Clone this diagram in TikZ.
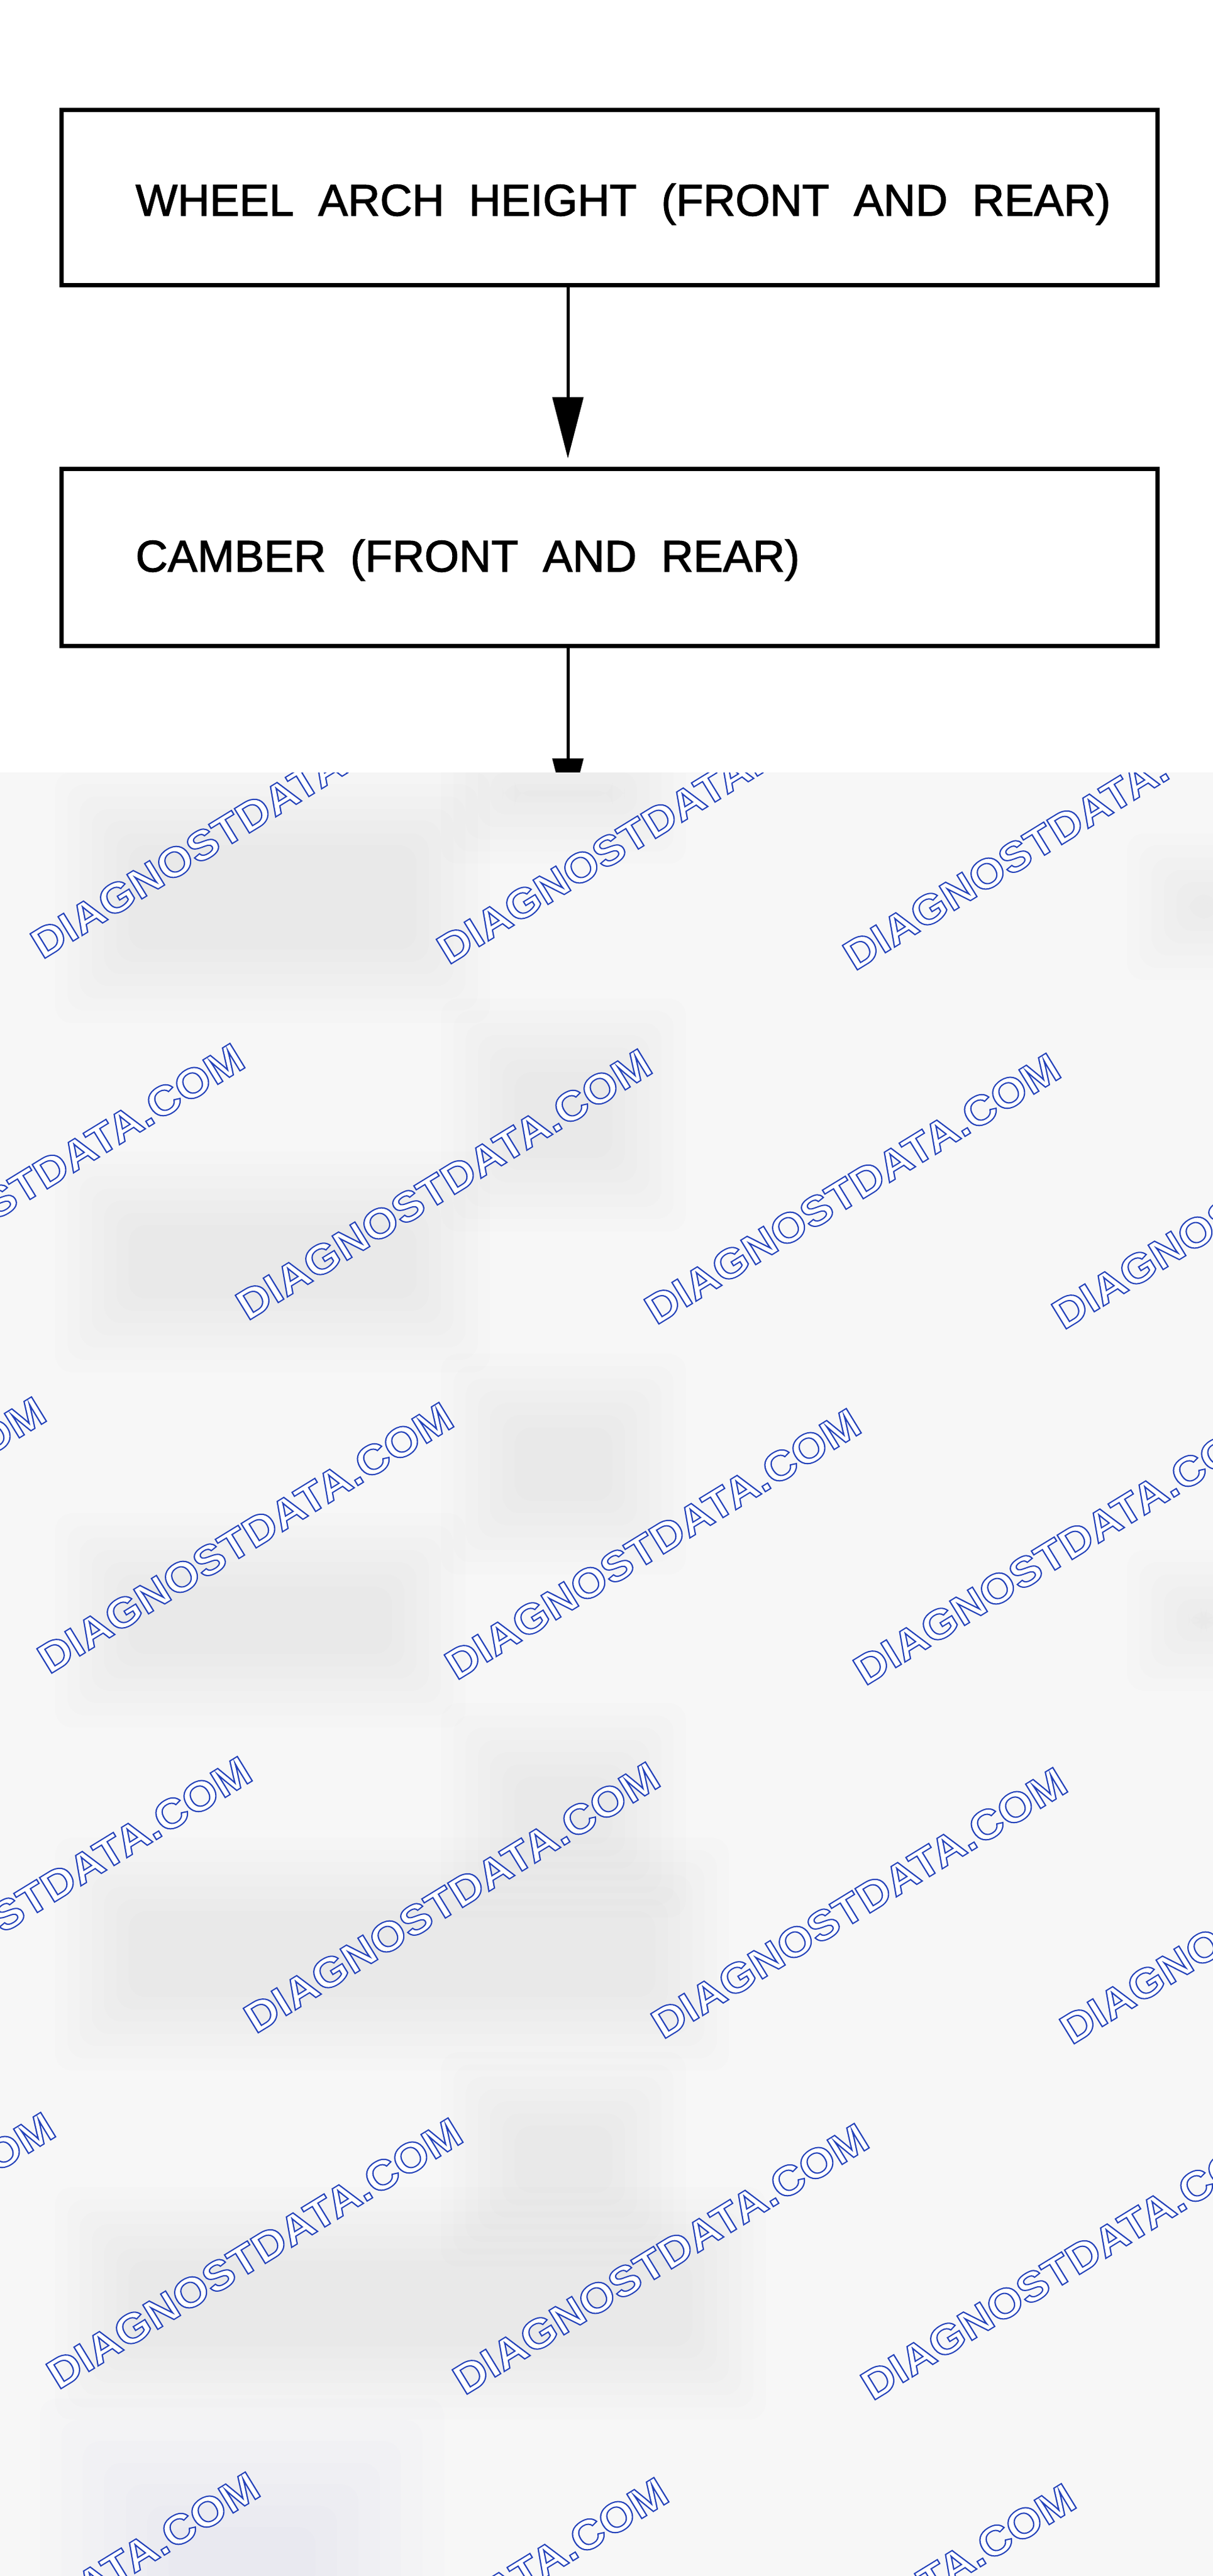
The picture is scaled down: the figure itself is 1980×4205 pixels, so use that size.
\documentclass[tikz,border=0pt]{standalone}
\usepackage{fontspec}
\usepackage{graphicx}
\setmainfont{Liberation Sans}
\newfontfamily\boxfont{Liberation Sans}
\newfontfamily\wmfont{Liberation Sans}
\usetikzlibrary{arrows.meta,calc}
\definecolor{bgbase}{RGB}{247,247,247}
\definecolor{bluish}{RGB}{40,90,200}
\newcommand\boxfontset{\boxfont\fontsize{36.3pt}{40pt}\selectfont\spaceskip 20pt\relax}
\newcommand\heavy[1]{\special{pdf:literal direct q 2 Tr 0 g 0 G 0.6 w}#1\special{pdf:literal direct Q}}
\newcommand\wmstr{\special{pdf:literal direct q 2 Tr 1 g 0.14 0.26 0.73 RG 1 w}\scalebox{1.09}[1]{DIAGNOSTDATA.COM}\special{pdf:literal direct Q}}
\newcommand\wmark[3]{\node[wmtext] (wm#3) at (#1,#2) {\wmstr};}
\newcommand\blob[7][black]{%
  \foreach \k in {-3,...,3}{\fill[#1,fill opacity=#2,rounded corners=14pt] (#3+\k*#7,#4+\k*#7) rectangle (#5-\k*#7,#6-\k*#7);}}
\begin{document}
\begin{tikzpicture}[x=0.5pt,y=-0.5pt,
  stepbox/.style={draw=black,line width=3.1pt,minimum width=894.5pt,inner sep=0pt},
  boxtext/.style={anchor=base west,inner sep=0pt,font=\boxfontset},
  flowarrow/.style={line width=2.5pt,-{Triangle[length=50pt,width=25pt]}},
  wmtext/.style={anchor=base west,inner sep=0pt,rotate=31.5,font=\wmfont\bfseries\fontsize{34pt}{36pt}\selectfont}]
\useasboundingbox[fill=white] (0,0) rectangle (1980,4205);
% flowchart
\node[stepbox,minimum height=143pt] (b1) at (995,322.5) {};
\node[boxtext] (t1) at (221,352) {\heavy{WHEEL ARCH HEIGHT (FRONT AND REAR)}};
\node[stepbox,minimum height=144.5pt] (b2) at (995,910) {};
\node[boxtext] (t2) at (221,933) {\heavy{CAMBER (FRONT AND REAR)}};
\coordinate (ax) at (927,0);
\coordinate (next) at (927,1338);
\draw[flowarrow,shorten >=7pt] (ax |- b1.south) -- (ax |- b2.north);
\draw[flowarrow] (ax |- b2.south) -- (next);
% blurred cover
\fill[bgbase] (0,1261) rectangle (1980,4205);
\begin{scope}
\clip (0,1261) rectangle (1980,4205);
\blob{0.007}{150}{1320}{740}{1610}{20}
\blob{0.007}{780}{1240}{1060}{1350}{20}
\blob{0.007}{780}{1690}{1060}{1950}{20}
\blob{0.007}{150}{1940}{740}{2180}{20}
\blob{0.007}{780}{2270}{1060}{2510}{20}
\blob{0.007}{150}{2530}{700}{2760}{20}
\blob{0.007}{780}{2840}{1060}{3070}{20}
\blob{0.007}{150}{3060}{1130}{3320}{20}
\blob{0.007}{780}{3410}{1060}{3640}{20}
\blob{0.007}{150}{3630}{1190}{3890}{20}
\blob[bluish]{0.008}{170}{4020}{620}{4330}{35}
\blob{0.007}{1900}{1420}{2030}{1540}{20}
\blob{0.007}{1900}{2590}{2030}{2700}{20}
% watermarks
\wmark{69}{1567}{a1}
\wmark{732}{1576}{a2}
\wmark{1395}{1586}{a3}
\wmark{-261}{2148}{b0}
\wmark{404}{2157}{b1}
\wmark{1071}{2164}{b2}
\wmark{1736}{2172}{b3}
\wmark{-585}{2725}{c0}
\wmark{80}{2734}{c1}
\wmark{745}{2744}{c2}
\wmark{1412}{2753}{c3}
\wmark{-249}{3312}{d0}
\wmark{417}{3321}{d1}
\wmark{1082}{3330}{d2}
\wmark{1749}{3339}{d3}
\wmark{-570}{3893}{e0}
\wmark{95}{3902}{e1}
\wmark{758}{3911}{e2}
\wmark{1424}{3920}{e3}
\wmark{-236}{4480}{f0}
\wmark{431}{4489}{f1}
\wmark{1096}{4499}{f2}
\wmark{1761}{4508}{f3}
\end{scope}
\end{tikzpicture}
\end{document}
